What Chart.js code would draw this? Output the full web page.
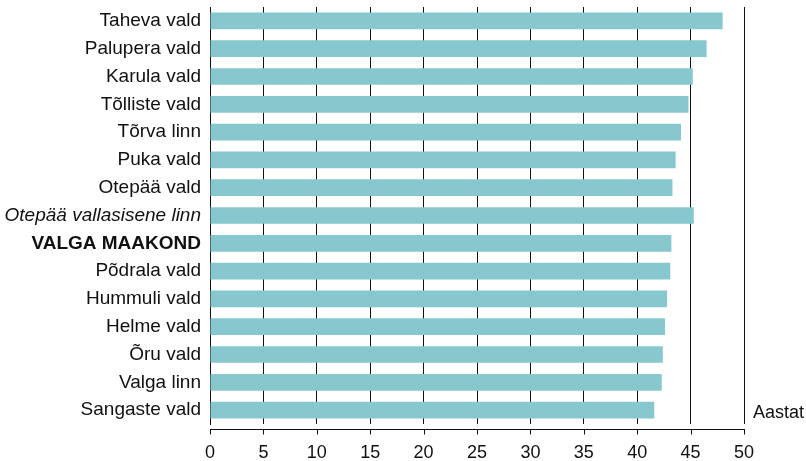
<!DOCTYPE html>
<html>
<head>
<meta charset="utf-8">
<script src="https://cdn.jsdelivr.net/npm/chart.js@4"></script>
<style>
  html, body { margin: 0; padding: 0; background: #fff; }
  #wrap { width: 806px; height: 461px; }
</style>
</head>
<body>
<div id="wrap"><canvas id="chart"></canvas></div>
<script>
/* Keskmine vanus omavalitsuste kaupa, Valga maakond */

const categories = [
  'Taheva vald', 'Palupera vald', 'Karula vald', 'Tõlliste vald', 'Tõrva linn',
  'Puka vald', 'Otepää vald', 'Otepää vallasisene linn', 'VALGA MAAKOND',
  'Põdrala vald', 'Hummuli vald', 'Helme vald', 'Õru vald', 'Valga linn',
  'Sangaste vald'
];
const ageValues = [48.0, 46.5, 45.2, 44.8, 44.1, 43.6, 43.3, 45.3, 43.2, 43.1, 42.8, 42.6, 42.4, 42.3, 41.6];
const xTicks = [0, 5, 10, 15, 20, 25, 30, 35, 40, 45, 50];
const unitLabel = 'Aastat';

const ITALIC_ROW = 'Otepää vallasisene linn';
const BOLD_ROW = 'VALGA MAAKOND';

const FONT = "'Liberation Sans', Arial, sans-serif";
const INK = '#111';
const BAR = '#86c8ce';

/* ── bottom axis line sits a few px below the plot, ticks hang down ── */
const detachedAxis = {
  id: 'detachedAxis',
  afterDraw(chart) {
    const { ctx, chartArea, scales } = chart;
    const x = scales.x;
    const y0 = Math.round(chartArea.bottom + 5) + 0.5;
    ctx.save();
    ctx.strokeStyle = INK;
    ctx.lineWidth = 1;
    ctx.beginPath();
    ctx.moveTo(Math.round(x.getPixelForValue(xTicks[0])), y0);
    ctx.lineTo(Math.round(x.getPixelForValue(xTicks[xTicks.length - 1])) + 1, y0);
    xTicks.forEach(v => {
      const px = Math.round(x.getPixelForValue(v)) + 0.5;
      ctx.moveTo(px, y0);
      ctx.lineTo(px, y0 + 5);
    });
    ctx.stroke();

    // unit label right of the plot
    ctx.fillStyle = INK;
    ctx.font = '18px ' + FONT;
    ctx.textAlign = 'left';
    ctx.textBaseline = 'alphabetic';
    ctx.fillText(unitLabel, chartArea.right + 9, chartArea.bottom - 6);
    ctx.restore();
  }
};

new Chart(document.getElementById('chart'), {
  type: 'bar',
  data: {
    labels: categories,
    datasets: [{
      data: ageValues,
      backgroundColor: BAR,
      borderWidth: 0,
      barPercentage: 0.6,
      categoryPercentage: 1.0,
    }],
  },
  options: {
    indexAxis: 'y',
    responsive: true,
    maintainAspectRatio: false,
    animation: false,
    layout: { padding: { top: 7, right: 62, bottom: 0, left: 0 } },
    plugins: {
      legend: { display: false },
      tooltip: { enabled: false },
    },
    scales: {
      x: {
        min: 0,
        max: 50,
        afterBuildTicks: s => { s.ticks = xTicks.map(v => ({ value: v })); },
        afterFit: s => { s.height = 37; s.paddingLeft = 0; s.paddingRight = 0; },
        grid: { color: INK, lineWidth: 1, drawTicks: false },
        border: { display: false },
        ticks: {
          color: INK,
          padding: 18,
          font: { family: FONT, size: 18 },
        },
      },
      y: {
        afterFit: s => { s.width = 210; s.paddingTop = 0; s.paddingBottom = 0; },
        grid: { display: false, drawTicks: false },
        border: { display: true, color: INK, width: 1 },
        ticks: {
          color: INK,
          padding: 9,
          autoSkip: false,
          font: ctx => {
            const name = categories[ctx.index];
            return {
              family: FONT,
              size: 19,
              style: name === ITALIC_ROW ? 'italic' : 'normal',
              weight: name === BOLD_ROW ? 'bold' : 'normal',
            };
          },
        },
      },
    },
  },
  plugins: [detachedAxis],
});
</script>
</body>
</html>
